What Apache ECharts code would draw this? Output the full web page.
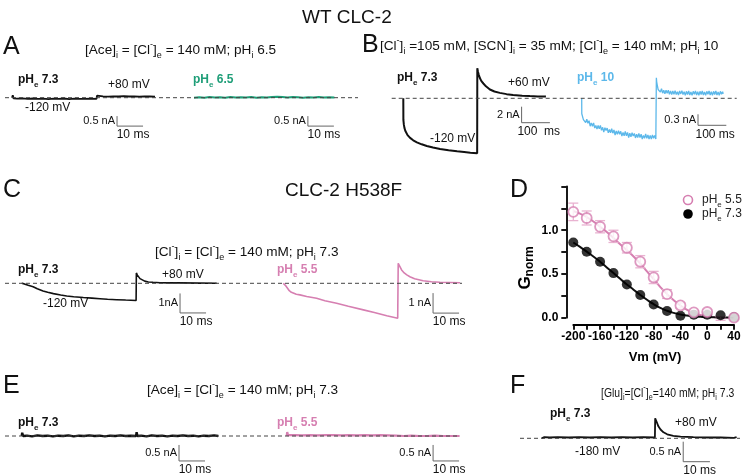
<!DOCTYPE html>
<html><head><meta charset="utf-8">
<script src="https://cdn.jsdelivr.net/npm/echarts@6/dist/echarts.min.js"></script>
<style>html,body{margin:0;padding:0;background:#fff}#c{width:742px;height:475px}</style>
</head><body><div id="c"></div>
<script>
// ================= DATA (time in ms, current in nA) =================
const A_black = [[0,0],[0.3,0.12],[0.6,-0.03],[2,-0.05],[4,-0.03],[6,-0.06],[8,-0.04],[10,-0.06],[12,-0.05],[14,-0.07],[16,-0.05],[18,-0.06],[20,-0.04],[22,-0.07],[24,-0.05],[26,-0.06],[28,-0.06],[30,-0.05],[32.5,-0.06],[32.7,0.1],[33,0.06],[35,0.07],[37,0.05],[39,0.07],[41,0.06],[43,0.08],[45,0.06],[47,0.07],[49,0.05],[51,0.07],[53,0.06],[55,0.05]];
const A_green = [[0,0],[0.3,0.1],[0.6,0.02],[2,0.02],[4,0.0],[6,0.03],[8,0.01],[10,0.02],[12,0.0],[14,0.03],[16,0.01],[18,0.02],[20,0.01],[22,0.03],[24,0.0],[26,0.02],[28,0.01],[30,0.03],[32,0.05],[34,0.03],[36,0.01],[38,0.03],[40,0.02],[42,0.0],[44,0.02],[46,0.01],[48,0.03],[50,0.01],[52,0.02],[54,0.01]];
const B_black = [[0,0],[0.3,-2.7],[2,-3.3],[4,-3.7],[7,-4.05],[10,-4.3],[15,-4.6],[24,-4.95],[35,-5.25],[48,-5.5],[65,-5.75],[83,-5.96],[105,-6.15],[130,-6.33],[160,-6.5],[190,-6.63],[215,-6.72],[237,-6.8],[261,-6.88],[261.5,3.75],[264,3.3],[267,2.9],[271,2.5],[276,2.15],[283,1.85],[292,1.5],[306,1.1],[322,0.85],[341,0.68],[365,0.52],[388,0.41],[420,0.33],[447,0.28],[475,0.24],[504,0.22]];
const B_blue = [[0,0],[0.3,-0.42],[2,-0.43],[6,-0.58],[10,-0.53],[14,-0.66],[18,-0.57],[22,-0.68],[26,-0.61],[30,-0.76],[34,-0.67],[38,-0.76],[42,-0.67],[46,-0.81],[50,-0.74],[54,-0.84],[58,-0.74],[62,-0.83],[66,-0.74],[70,-0.87],[74,-0.79],[78,-0.92],[82,-0.80],[86,-0.88],[90,-0.81],[94,-0.94],[98,-0.85],[102,-0.94],[106,-0.83],[110,-0.95],[114,-0.86],[118,-1.00],[122,-0.89],[126,-0.98],[130,-0.88],[134,-0.98],[138,-0.90],[142,-1.03],[146,-0.93],[150,-1.02],[154,-0.90],[158,-1.02],[162,-0.93],[166,-1.07],[170,-0.95],[174,-1.05],[178,-0.94],[182,-1.03],[186,-0.96],[190,-1.08],[194,-0.98],[198,-1.07],[202,-0.96],[206,-1.07],[210,-0.98],[214,-1.11],[218,-1.01],[222,-1.09],[226,-0.97],[230,-1.09],[234,-1.00],[238,-1.11],[242,-1.01],[246,-1.11],[250,-1.00],[254,-1.09],[258,-1.01],[262,-1.11],[263.5,-1.07],[263.8,0.56],[265,0.45],[267,0.36],[270,0.24],[274,0.29],[278,0.17],[282,0.26],[286,0.14],[290,0.22],[294,0.12],[298,0.22],[302,0.14],[306,0.22],[310,0.11],[314,0.20],[318,0.10],[322,0.20],[326,0.11],[330,0.21],[334,0.10],[338,0.18],[342,0.09],[346,0.20],[350,0.12],[354,0.21],[358,0.10],[362,0.18],[366,0.08],[370,0.19],[374,0.10],[378,0.20],[382,0.09],[386,0.17],[390,0.08],[394,0.19],[398,0.11],[402,0.20],[406,0.09],[410,0.18],[414,0.08],[418,0.19],[422,0.10],[426,0.20],[430,0.09],[434,0.17],[438,0.08],[442,0.19],[446,0.11],[450,0.20],[454,0.09],[458,0.18],[462,0.08],[466,0.19],[470,0.10],[474,0.20],[478,0.09],[482,0.17],[486,0.08],[490,0.19],[494,0.11],[498,0.18],[500,0.12]];
const C_black = [[0,0],[1,-0.03],[2.5,-0.1],[4.4,-0.18],[6,-0.28],[8.2,-0.39],[10,-0.46],[12.2,-0.53],[15,-0.6],[17.3,-0.65],[20,-0.69],[23.7,-0.73],[27,-0.76],[30.1,-0.79],[33,-0.82],[36.5,-0.84],[40,-0.86],[44,-0.88],[44.1,0.53],[44.5,0.42],[44.9,0.32],[45.5,0.24],[46.2,0.17],[47.3,0.11],[48.7,0.07],[50.5,0.05],[53.2,0.03],[57,0.02],[60.9,0.02],[68,0.01],[75,0.0]];
const C_pink = [[0,0],[0.8,-0.1],[1.4,-0.17],[2.3,-0.37],[3.1,-0.45],[3.8,-0.5],[5,-0.55],[6.4,-0.58],[9,-0.66],[12.8,-0.75],[16,-0.87],[20.5,-1.0],[25,-1.15],[30.8,-1.33],[35,-1.46],[39.8,-1.62],[44,-1.75],[44.2,1.0],[44.8,0.85],[45.5,0.67],[46.5,0.52],[47.5,0.42],[48.7,0.33],[50.5,0.23],[53.8,0.13],[57,0.08],[60.2,0.05],[64,0.04],[68,0.03]];
const E_black = [[0,0],[0.2,0.1],[0.5,0.0],[2,0.01],[4,-0.01],[6,0.02],[8,0.0],[10,0.01],[12,-0.01],[14,0.01],[16,0.0],[18,0.02],[20,-0.01],[22,0.01],[24,0.0],[26,0.02],[28,0.0],[30,0.01],[32,-0.01],[34,0.01],[36,0.0],[38,0.02],[40,0.0],[42,0.01],[44,0.0],[44.2,0.12],[44.5,0.0],[46,0.01],[48,-0.01],[50,0.02],[52,0.0],[54,0.01],[56,-0.01],[58,0.01],[60,0.0],[62,0.02],[64,0.0],[66,0.01],[68,-0.01],[70,0.01],[72,0.0],[74,0.02],[75.6,0.0]];
const E_pink = [[0,0],[0.2,0.12],[0.5,0.03],[3,0.03],[6,0.02],[9,0.03],[12,0.02],[15,0.03],[18,0.03],[21,0.02],[24,0.03],[27,0.02],[30,0.03],[33,0.02],[36,0.03],[39,0.02],[42,0.01],[45,0.0],[48,0.01],[51,0.0],[54,0.0],[57,0.01],[60,0.0],[63,0.0],[66.5,0.0]];
const F_black = [[0,0],[0.5,0.04],[1,0.03],[3,0.02],[6,0.03],[10,0.02],[14,0.03],[18,0.02],[22,0.03],[26,0.02],[30,0.03],[34,0.02],[38,0.03],[42.4,0.02],[42.5,0.5],[43,0.42],[43.7,0.3],[44.5,0.22],[45.6,0.15],[47,0.1],[49.3,0.06],[52,0.04],[56.8,0.03],[62,0.02],[67,0.02],[72,0.01],[73,0.03]];

// Panel D: conductance vs voltage
const D_vm   = [-200,-180,-160,-140,-120,-100,-80,-60,-40,-20,0,20,40];
const D_g55  = [1.21,1.14,1.04,0.93,0.80,0.64,0.46,0.27,0.14,0.06,0.065,-0.01,0.0];
const D_e55  = [0.10,0.08,0.07,0.07,0.06,0.07,0.07,0.05,0.03,0.02,0.03,0.02,0.02];
const D_g73  = [0.86,0.755,0.64,0.51,0.38,0.26,0.15,0.077,0.023,0.034,0.034,0.027,0.004];
const D_fitVm = [-200,-190,-180,-170,-160,-150,-140,-130,-120,-110,-100,-90,-80,-70,-60,-50,-40,-30,-20,-10,0,10,20,30,40];
const D_fit55 = [1.22,1.19,1.15,1.10,1.04,0.98,0.91,0.84,0.77,0.70,0.62,0.53,0.44,0.35,0.27,0.20,0.14,0.09,0.055,0.03,0.015,0.005,0.0,-0.005,-0.01];
const D_fit73 = [0.86,0.81,0.755,0.70,0.64,0.575,0.51,0.445,0.38,0.32,0.26,0.205,0.155,0.113,0.08,0.055,0.036,0.024,0.015,0.01,0.006,0.004,0.002,0.001,0.0];
const D_yTicks = [0, 0.5, 1.0];
const D_xTicks = [-200,-160,-120,-80,-40,0,40];

// scale bar sizes [nA, ms]
const barA = [0.5, 10], barBk = [2, 100], barBb = [0.3, 100], barC = [1, 10], barE = [0.5, 10], barF = [0.5, 10];

// ================= LAYOUT / STYLE =================
const FONT = '"Liberation Sans", Arial, Helvetica, sans-serif';
const BLACK = '#111', GREEN = '#1f9e78', PINK = '#d67fb1', BLUE = '#5cb8ea', PINK_ERR = '#e9b3d1';
const SUB = 13.6;

const grids = [], xAxes = [], yAxes = [], series = [], graphics = [];

function addPanel(p) {
  const gi = grids.length;
  grids.push({left: p.L, top: p.T, width: p.R - p.L, height: p.B - p.T, containLabel: false, outerBoundsMode: 'none', show: false});
  const xmin = (p.L - p.x0) / p.sx, xmax = (p.R - p.x0) / p.sx;
  const ymin = (p.y0 - p.B) / p.sy, ymax = (p.y0 - p.T) / p.sy;
  xAxes.push({gridIndex: gi, type: 'value', min: xmin, max: xmax, show: false});
  yAxes.push({gridIndex: gi, type: 'value', min: ymin, max: ymax, show: false});
  return {gi, xmin, xmax, px: t => p.x0 + t * p.sx, py: v => p.y0 - v * p.sy};
}
function trace(pn, data, color, width) {
  series.push({type: 'line', xAxisIndex: pn.gi, yAxisIndex: pn.gi, data, symbol: 'none', showSymbol: false,
    lineStyle: {color, width}, animation: false, silent: true, z: 2});
}
function baseline(pn) {
  series.push({type: 'line', xAxisIndex: pn.gi, yAxisIndex: pn.gi, data: [[pn.xmin, 0], [pn.xmax, 0]], symbol: 'none',
    lineStyle: {color: '#444', width: 1, type: [4, 3]}, animation: false, silent: true, z: 3});
}
function scaleBar(pn, corner, bar, nALabel, msLabel) {
  const [h, w] = bar, [tc, ic] = corner;
  series.push({type: 'line', xAxisIndex: pn.gi, yAxisIndex: pn.gi, data: [[tc, ic + h], [tc, ic], [tc + w, ic]], symbol: 'none',
    lineStyle: {color: '#666', width: 1}, animation: false, silent: true, z: 2});
  txt(pn.px(tc) - 2, pn.py(ic + h / 2), nALabel || (h + ' nA'), {size: 11, align: 'right'});
  txt(pn.px(tc + w / 2) + 3, pn.py(ic) + 9, msLabel || (w + ' ms'), {size: 12, align: 'center'});
}
function txt(x, y, text, o) {
  o = o || {};
  graphics.push({type: 'text', x, y, z: 100, silent: true, rotation: o.rot || 0, scaleX: o.sx || 1,
    style: {text, fill: o.color || BLACK, font: (o.bold ? 'bold ' : '') + (o.size || 12) + 'px ' + FONT,
      align: o.align || 'left', verticalAlign: 'middle', rich: o.rich}});
}
function richSet(size, color, bold) {
  const fw = bold ? 'bold' : 'normal';
  const ss = Math.round(size * 0.68);
  return {
    n: {fontSize: size, fontFamily: FONT, fontWeight: fw, fill: color, lineHeight: size + 6},
    s: {fontSize: ss, fontFamily: FONT, fontWeight: fw, fill: color, lineHeight: ss, verticalAlign: 'bottom'},
    u: {fontSize: ss, fontFamily: FONT, fontWeight: fw, fill: color, lineHeight: ss, verticalAlign: 'top'}
  };
}
function rtxt(x, y, text, size, color, bold, align, sx) {
  txt(x, y, text, {rich: richSet(size, color, bold), align: align || 'left', sx});
}
const pHe = v => '{n|pH}{s|e}{n| ' + v + '}';

// ---------- headings ----------
txt(302, 18, 'WT CLC-2', {size: 19});
txt(285, 191, 'CLC-2 H538F', {size: 19});
txt(3, 47, 'A', {size: 25});
txt(362, 45, 'B', {size: 25});
txt(3, 190, 'C', {size: 25});
txt(510, 190, 'D', {size: 25});
txt(3, 386, 'E', {size: 25});
txt(510, 386, 'F', {size: 25});
rtxt(85, 50, '{n|[Ace]}{s|i}{n| = [Cl}{u|-}{n|]}{s|e}{n| = 140 mM; pH}{s|i}{n| 6.5}', SUB, BLACK);
rtxt(380, 46, '{n|[Cl}{u|-}{n|]}{s|i}{n| =105 mM, [SCN}{u|-}{n|]}{s|i}{n| = 35 mM; [Cl}{u|-}{n|]}{s|e}{n| = 140 mM; pH}{s|i}{n| 10}', SUB, BLACK);
rtxt(155, 252, '{n|[Cl}{u|-}{n|]}{s|i}{n| = [Cl}{u|-}{n|]}{s|e}{n| = 140 mM; pH}{s|i}{n| 7.3}', SUB, BLACK);
rtxt(147, 390, '{n|[Ace]}{s|i}{n| = [Cl}{u|-}{n|]}{s|e}{n| = 140 mM; pH}{s|i}{n| 7.3}', SUB, BLACK);
rtxt(601, 393, '{n|[Glu]}{s|i}{n|=[Cl}{u|-}{n|]}{s|e}{n|=140 mM; pH}{s|i}{n| 7.3}', 13, BLACK, false, 'left', 0.8);

// ---------- Panel A ----------
const pAk = addPanel({L: 5, R: 358, T: 60, B: 140, x0: 12, y0: 97.7, sx: 2.6, sy: 20});
const pAg = addPanel({L: 160, R: 358, T: 60, B: 140, x0: 194, y0: 97.7, sx: 2.6, sy: 20});
trace(pAk, A_black, BLACK, 1.8);
trace(pAg, A_green, GREEN, 2);
baseline(pAk);
scaleBar(pAk, [40.4, -1.42], barA);
scaleBar(pAg, [43.8, -1.42], barA);
rtxt(18, 80, pHe('7.3'), 12, BLACK, true);
rtxt(193, 80, pHe('6.5'), 12, GREEN, true);
txt(108, 85, '+80 mV', {size: 12});
txt(25, 108, '-120 mV', {size: 12});

// ---------- Panel B ----------
const pBk = addPanel({L: 391.7, R: 736.7, T: 55, B: 170, x0: 403.3, y0: 98.3, sx: 0.283, sy: 8});
const pBb = addPanel({L: 560, R: 740, T: 55, B: 170, x0: 581.7, y0: 98.3, sx: 0.283, sy: 36.7});
trace(pBk, B_black, BLACK, 2);
trace(pBb, B_blue, BLUE, 1.3);
baseline(pBk);
scaleBar(pBk, [418, -3.05], barBk, '2 nA', '100  ms');
scaleBar(pBb, [411, -0.736], barBb);
rtxt(397, 78, pHe('7.3'), 12, BLACK, true);
rtxt(577, 78, pHe('10'), 12, BLUE, true);
txt(508, 83, '+60 mV', {size: 12});
txt(430, 139, '-120 mV', {size: 12});

// ---------- Panel C ----------
const pCk = addPanel({L: 5, R: 462, T: 240, B: 335, x0: 21.7, y0: 283.3, sx: 2.6, sy: 19.5});
const pCp = addPanel({L: 250, R: 462, T: 240, B: 335, x0: 283.3, y0: 283.3, sx: 2.6, sy: 20});
trace(pCk, C_black, BLACK, 1.6);
trace(pCp, C_pink, PINK, 1.6);
baseline(pCk);
scaleBar(pCk, [60.9, -1.52], barC, '1nA');
scaleBar(pCp, [57.6, -1.49], barC);
rtxt(18, 270, pHe('7.3'), 12, BLACK, true);
rtxt(277, 270, pHe('5.5'), 12, PINK, true);
txt(162, 275, '+80 mV', {size: 12});
txt(43, 304, '-120 mV', {size: 12});

// ---------- Panel E ----------
const pEk = addPanel({L: 5, R: 460, T: 400, B: 475, x0: 21.7, y0: 436, sx: 2.6, sy: 32});
const pEp = addPanel({L: 250, R: 460, T: 400, B: 475, x0: 286.7, y0: 436, sx: 2.6, sy: 32});
trace(pEk, E_black, BLACK, 2.4);
trace(pEp, E_pink, PINK, 2.2);
baseline(pEk);
scaleBar(pEk, [60.5, -0.78], barE);
scaleBar(pEp, [56.3, -0.78], barE);
rtxt(18, 423, pHe('7.3'), 12, BLACK, true);
rtxt(277, 423, pHe('5.5'), 12, PINK, true);

// ---------- Panel F ----------
const pFk = addPanel({L: 520, R: 740, T: 400, B: 475, x0: 541.7, y0: 438.3, sx: 2.67, sy: 40});
trace(pFk, F_black, BLACK, 1.8);
baseline(pFk);
scaleBar(pFk, [53, -0.585], barF);
rtxt(550, 414, pHe('7.3'), 12, BLACK, true);
txt(675, 423, '+80 mV', {size: 12});
txt(575, 452, '-180 mV', {size: 12});

// ---------- Panel D ----------
const gD = grids.length;
grids.push({left: 573.3, top: 186.5, width: 160.7, height: 131.2, containLabel: false, outerBoundsMode: 'none', show: false});
const axLine = {show: true, onZero: false, lineStyle: {color: '#000', width: 1.8}};
const axTick = {show: true, length: 5, lineStyle: {color: '#000', width: 1.8}};
xAxes.push({gridIndex: gD, type: 'value', position: 'bottom', min: D_xTicks[0], max: D_xTicks[D_xTicks.length - 1], interval: 40, offset: 7,
  axisLine: axLine, axisTick: axTick, minorTick: {show: true, splitNumber: 2, length: 5, lineStyle: {color: '#000', width: 1.8}},
  axisLabel: {color: '#000', fontWeight: 'bold', fontSize: 12, fontFamily: FONT, margin: 6}, splitLine: {show: false}, minorSplitLine: {show: false}});
yAxes.push({gridIndex: gD, type: 'value', position: 'left', min: 0, max: 1.5, interval: 0.5, offset: 7,
  axisLine: axLine, axisTick: axTick, minorTick: {show: true, splitNumber: 2, length: 5, lineStyle: {color: '#000', width: 1.8}},
  axisLabel: {color: '#000', fontWeight: 'bold', fontSize: 12, fontFamily: FONT, margin: 8,
    formatter: v => D_yTicks.some(t => Math.abs(t - v) < 1e-9) ? v.toFixed(1) : ''},
  splitLine: {show: false}, minorSplitLine: {show: false}});
series.push({type: 'line', xAxisIndex: gD, yAxisIndex: gD, data: D_fitVm.map((v, i) => [v, D_fit55[i]]), smooth: true, symbol: 'none',
  lineStyle: {color: PINK, width: 2}, animation: false, silent: true, z: 2});
series.push({type: 'line', xAxisIndex: gD, yAxisIndex: gD, data: D_fitVm.map((v, i) => [v, D_fit73[i]]), smooth: true, symbol: 'none',
  lineStyle: {color: BLACK, width: 2}, animation: false, silent: true, z: 2});
series.push({type: 'custom', xAxisIndex: gD, yAxisIndex: gD, animation: false, silent: true, z: 3,
  data: D_vm.map((v, i) => [v, D_g55[i] - D_e55[i], D_g55[i] + D_e55[i]]),
  renderItem: (params, api) => {
    const lo = api.coord([api.value(0), api.value(1)]), hi = api.coord([api.value(0), api.value(2)]);
    const st = {stroke: PINK_ERR, lineWidth: 1.3};
    return {type: 'group', children: [
      {type: 'line', shape: {x1: lo[0], y1: lo[1], x2: hi[0], y2: hi[1]}, style: st},
      {type: 'line', shape: {x1: lo[0] - 5, y1: lo[1], x2: lo[0] + 5, y2: lo[1]}, style: st},
      {type: 'line', shape: {x1: hi[0] - 5, y1: hi[1], x2: hi[0] + 5, y2: hi[1]}, style: st}]};
  }});
series.push({type: 'scatter', name: 'pHe 7.3', xAxisIndex: gD, yAxisIndex: gD, data: D_vm.map((v, i) => [v, D_g73[i]]), symbol: 'circle', symbolSize: 10,
  itemStyle: {color: '#000'}, animation: false, silent: true, z: 4});
series.push({type: 'scatter', name: 'pHe 5.5', xAxisIndex: gD, yAxisIndex: gD, data: D_vm.map((v, i) => [v, D_g55[i]]), symbol: 'circle', symbolSize: 10,
  itemStyle: {color: '#fff', borderColor: PINK, borderWidth: 1.8}, animation: false, silent: true, z: 5});
// axis titles and legend
graphics.push({type: 'text', x: 525, y: 268, rotation: Math.PI / 2, z: 100, silent: true,
  style: {text: '{g|G}{s|norm}', align: 'center', verticalAlign: 'middle',
    rich: {g: {fontSize: 17, fontWeight: 'bold', fontFamily: FONT, fill: '#000', lineHeight: 22},
           s: {fontSize: 12, fontWeight: 'bold', fontFamily: FONT, fill: '#000', lineHeight: 12, verticalAlign: 'bottom'}}}});
txt(655, 357, 'Vm (mV)', {size: 13, bold: true, align: 'center', color: '#000'});
graphics.push({type: 'circle', shape: {cx: 688, cy: 200, r: 4.5}, style: {fill: '#fff', stroke: PINK, lineWidth: 1.6}, z: 100});
graphics.push({type: 'circle', shape: {cx: 688, cy: 214, r: 4.8}, style: {fill: '#000'}, z: 100});
rtxt(702, 200, pHe('5.5'), 12, '#222');
rtxt(702, 214, pHe('7.3'), 12, '#222');

const chart = echarts.init(document.getElementById('c'), null, {renderer: 'canvas'});
chart.setOption({backgroundColor: '#fff', animation: false, grid: grids, xAxis: xAxes, yAxis: yAxes, series, graphic: {elements: graphics}});
</script></body></html>
